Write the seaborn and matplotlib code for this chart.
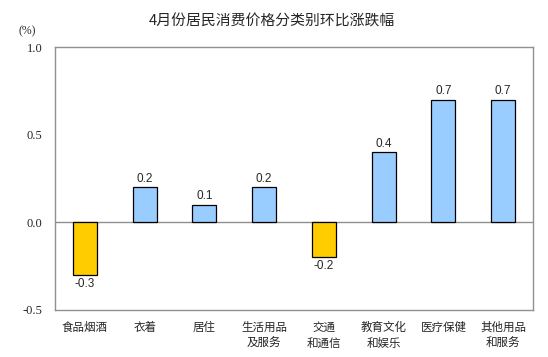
import numpy as np
import pandas as pd
import matplotlib
matplotlib.use("Agg")
import matplotlib.pyplot as plt
import seaborn as sns

# Data
categories = ['食品烟酒', '衣着', '居住', '生活用品\n及服务', '交通\n和通信',
              '教育文化\n和娱乐', '医疗保健', '其他用品\n和服务']
values = [-0.3, 0.2, 0.1, 0.2, -0.2, 0.4, 0.7, 0.7]
y_ticks = [-0.5, 0.0, 0.5, 1.0]

df = pd.DataFrame({'cat': categories, 'val': values})
colors = ['#FFCC00' if v < 0 else '#99CCFF' for v in values]

sns.set_style('white')
plt.rcParams['font.family'] = ['Noto Sans CJK SC', 'DejaVu Sans']

fig = plt.figure(figsize=(5.48, 3.57), dpi=100)
ax = fig.add_axes([55 / 548, 1 - 310 / 357, 478 / 548, 263 / 357])

sns.barplot(data=df, x='cat', y='val', hue='cat', palette=colors, legend=False,
            width=0.4, edgecolor='black', linewidth=0.9, saturation=1, ax=ax)

ax.set_ylim(-0.5, 1.0)
ax.set_xlim(-0.5, len(categories) - 0.5)
ax.set_yticks(y_ticks)
ax.set_yticklabels([f'{t:.1f}' for t in y_ticks], family='Liberation Serif', fontsize=9)
ax.tick_params(axis='y', length=0, pad=9)
ax.tick_params(axis='x', length=0, pad=8)
for lbl in ax.get_xticklabels():
    lbl.set_fontsize(8.3)
    lbl.set_linespacing(1.25)
ax.set_xlabel('')
ax.set_ylabel('')
for s in ax.spines.values():
    s.set_color('#909090')
    s.set_linewidth(1)
ax.axhline(0, color='#909090', linewidth=1, zorder=0.5)

for i, v in enumerate(values):
    off = 0.015 if v >= 0 else -0.015
    ax.text(i, v + off, f'{v:.1f}', ha='center', va='bottom' if v >= 0 else 'top',
            family='Liberation Sans', fontsize=8.5)

fig.text(272 / 548, 1 - 21 / 357, '4月份居民消费价格分类别环比涨跌幅',
         ha='center', va='center', fontsize=10.7)
fig.text(27 / 548, 1 - 31 / 357, '(%)', ha='center', va='center',
         family='Liberation Serif', fontsize=8.5)

fig.savefig('out.png', dpi=100)
